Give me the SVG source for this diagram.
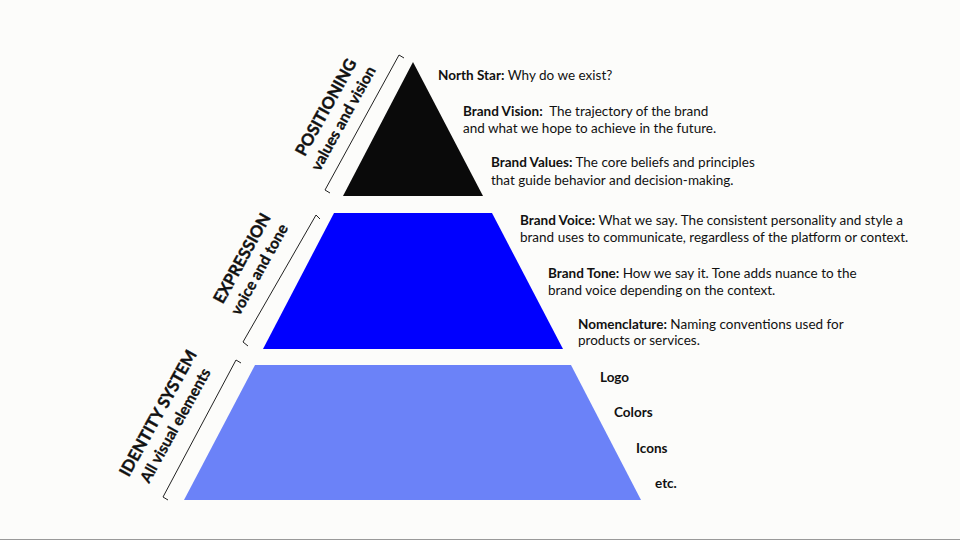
<svg xmlns="http://www.w3.org/2000/svg" width="960" height="540" viewBox="0 0 960 540">
<style>
.t{font-family:Lato,"Noto Sans",sans-serif;font-size:13.5px;fill:#111}
.b{font-weight:bold}
.h{font-family:Lato,"Noto Sans",sans-serif;font-weight:bold;fill:#111;text-anchor:middle}
.br{fill:none;stroke:#222;stroke-width:1}
</style>
<rect width="960" height="540" fill="#fcfcfa"/>
<line x1="0" y1="539.5" x2="960" y2="539.5" stroke="#999" stroke-width="1"/>
<g id="tier-positioning">
<polygon points="413,62 483,196 343,196" fill="#0a0a0a"/>
<path class="br" d="M404,58 L399,55 L325,190 L330,193"/>
<text class="h" font-size="16.5" stroke="#111" stroke-width="0.4" transform="translate(331,110) rotate(-61)">POSITIONING</text>
<text class="h" font-size="15.5" stroke="#111" stroke-width="0.3" transform="translate(348,121) rotate(-61)">values and vision</text>
</g>
<g id="tier-expression">
<polygon points="334,213 492,213 563,349 263,349" fill="#0000ff"/>
<path class="br" d="M320,219 L316,215 L243,342 L248,346"/>
<text class="h" font-size="16.5" stroke="#111" stroke-width="0.4" transform="translate(247,261) rotate(-61)">EXPRESSION</text>
<text class="h" font-size="15.5" stroke="#111" stroke-width="0.3" transform="translate(264,272) rotate(-61)">voice and tone</text>
</g>
<g id="tier-identity">
<polygon points="255,365 571,365 641,500 184,500" fill="#6b82f8"/>
<path class="br" d="M241,363 L236,360 L163,497 L168,500"/>
<text class="h" font-size="16.5" stroke="#111" stroke-width="0.4" transform="translate(163,416) rotate(-61)">IDENTITY SYSTEM</text>
<text class="h" font-size="15.5" stroke="#111" stroke-width="0.3" transform="translate(180,428) rotate(-61)">All visual elements</text>
</g>
<g id="desc-northstar"><text class="t" x="438" y="80"><tspan class="b">North Star:</tspan> Why do we exist?</text></g>
<g id="desc-vision"><text class="t" x="463" y="116"><tspan class="b">Brand Vision:</tspan>&#160; The trajectory of the brand</text><text class="t" x="463" y="133">and what we hope to achieve in the future.</text></g>
<g id="desc-values"><text class="t" x="491" y="167"><tspan class="b">Brand Values:</tspan> The core beliefs and principles</text><text class="t" x="491" y="185">that guide behavior and decision-making.</text></g>
<g id="desc-voice"><text class="t" x="520" y="225"><tspan class="b">Brand Voice:</tspan> What we say. The consistent personality and style a</text><text class="t" x="520" y="242">brand uses to communicate, regardless of the platform or context.</text></g>
<g id="desc-tone"><text class="t" x="548" y="278"><tspan class="b">Brand Tone:</tspan> How we say it. Tone adds nuance to the</text><text class="t" x="548" y="295">brand voice depending on the context.</text></g>
<g id="desc-nomenclature"><text class="t" x="578" y="329"><tspan class="b">Nomenclature:</tspan> Naming conventions used for</text><text class="t" x="578" y="345">products or services.</text></g>
<g id="item-logo"><text class="t b" x="600" y="382">Logo</text></g>
<g id="item-colors"><text class="t b" x="614" y="417">Colors</text></g>
<g id="item-icons"><text class="t b" x="636" y="453">Icons</text></g>
<g id="item-etc"><text class="t b" x="655" y="488">etc.</text></g>
</svg>
